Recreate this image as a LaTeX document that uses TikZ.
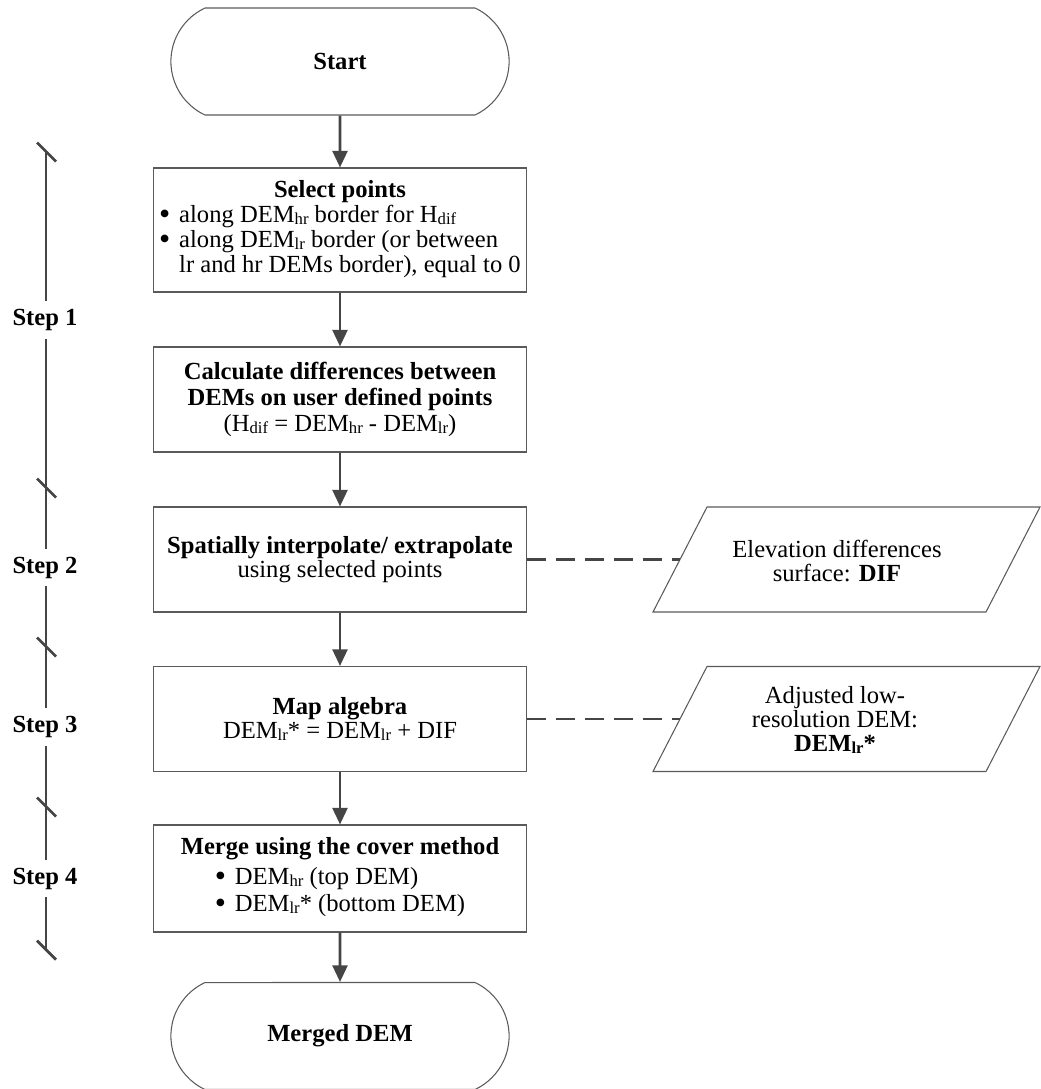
\documentclass[tikz,border=0pt]{standalone}
\usepackage{fontspec}
\setmainfont{Liberation Serif}
\usetikzlibrary{arrows.meta,shapes.misc}

\definecolor{linegray}{HTML}{454545}
\definecolor{boxgray}{HTML}{5A5A5A}

\newcommand{\chartfont}{\fontsize{14}{13.8}\selectfont}
\newcommand{\itembullet}{\smash{\raisebox{-1.3pt}{\scalebox{1.3}{\textbullet}}}}
\newcommand{\sub}[1]{\raisebox{-1.2pt}{\fontsize{9.5}{9.5}\selectfont #1}}

\tikzset{
  procbox/.style={draw=boxgray, line width=0.6pt, minimum width=7.48cm,
    minimum height=2.1cm, align=center, inner sep=0pt},
  termbox/.style={rounded rectangle, rounded rectangle arc length=130,
    draw=boxgray, line width=0.6pt, minimum width=7.0cm, minimum height=2.14cm,
    font=\chartfont\bfseries},
  pgram/.style={draw=boxgray, line width=0.6pt},
  datatext/.style={align=center, inner sep=0pt},
  flow/.style={-{Triangle[length=9.5pt,width=8.5pt]}, line width=1.6pt, draw=linegray},
  link/.style={draw=linegray, line width=1.6pt, dash pattern=on 10.5pt off 6pt},
  axis/.style={draw=linegray, line width=1.6pt},
  steplbl/.style={fill=white, font=\chartfont\bfseries, inner xsep=1pt, inner ysep=4.5pt}
}

\begin{document}
\begin{tikzpicture}[x=0.02cm, y=-0.02cm, font=\chartfont]

  \useasboundingbox (0,0) rectangle (1041,1089);

  % Start and end
  \node[termbox] (start) at (340,61.5) {Start};
  \node[termbox] (merged) at (340,1036) {Merged DEM};

  % Process boxes
  \node[procbox, minimum height=2.48cm] (select) at (340,230) {%
    \textbf{Select points}\\
    \renewcommand{\arraystretch}{1.03}%
    \begin{tabular}{@{}l@{\hspace{5pt}}l@{}}
      \itembullet & along DEM\sub{hr} border for H\sub{dif}\\
      \itembullet & along DEM\sub{lr} border (or between\\
                  & lr and hr DEMs border), equal to 0
    \end{tabular}};
  \node[procbox] (calc) at (340,399.5) {%
    \textbf{Calculate differences between}\\[1pt]
    \textbf{DEMs on user defined points}\\[1pt]
    (H\sub{dif} = DEM\sub{hr} - DEM\sub{lr})};
  \node[procbox] (interp) at (340,559.5) {%
    \textbf{Spatially interpolate/ extrapolate}\\
    using selected points};
  \node[procbox] (algebra) at (340,719) {%
    \textbf{Map algebra}\\
    DEM\sub{lr}* = DEM\sub{lr} + DIF};
  \node[procbox, minimum height=2.14cm] (cover) at (340,878.5) {%
    \textbf{Merge using the cover method}\\[2pt]
    \renewcommand{\arraystretch}{1.12}%
    \begin{tabular}{@{}l@{\hspace{5pt}}l@{}}
      \itembullet & DEM\sub{hr} (top DEM)\\
      \itembullet & DEM\sub{lr}* (bottom DEM)
    \end{tabular}};

  % Data outputs (parallelograms)
  \foreach \y in {559.5, 719} {
    \draw[pgram] (653,\y+52.5) -- (707,\y-52.5) -- (1040,\y-52.5)
      -- (986,\y+52.5) -- cycle;
  }
  \coordinate (difin) at (680,559.5);
  \coordinate (adjin) at (680,719);
  \node[datatext] (dif) at (837,561) {%
    Elevation differences\\
    surface: \textbf{DIF}};
  \node[datatext] (adjusted) at (835,720) {%
    Adjusted low-\\
    resolution DEM:\\
    \textbf{DEM\sub{lr}*}};

  % Flow arrows
  \foreach \a/\b in {start/select, select/calc, calc/interp, interp/algebra,
                     algebra/cover, cover/merged} {
    \draw[flow] (\a) -- (\b);
  }

  % Dashed links to outputs
  \draw[link] (interp.east) -- (difin);
  \draw[link] (algebra.east) -- (adjin);

  % Step axis with ticks
  \foreach \n/\y in {1/152, 2/488, 3/647, 4/807, 5/950} {
    \coordinate (t\n) at (46,\y);
  }
  \draw[axis] (t1) -- (t5);
  \foreach \n in {1,...,5} {
    \draw[axis] ([shift={(-9,-9.5)}]t\n) -- ([shift={(10,9.5)}]t\n);
  }

  % Step labels
  \foreach \n/\y in {1/320, 2/567.5, 3/727, 4/878.5} {
    \node[steplbl] (step\n) at (45,\y) {Step \n};
  }

\end{tikzpicture}
\end{document}
